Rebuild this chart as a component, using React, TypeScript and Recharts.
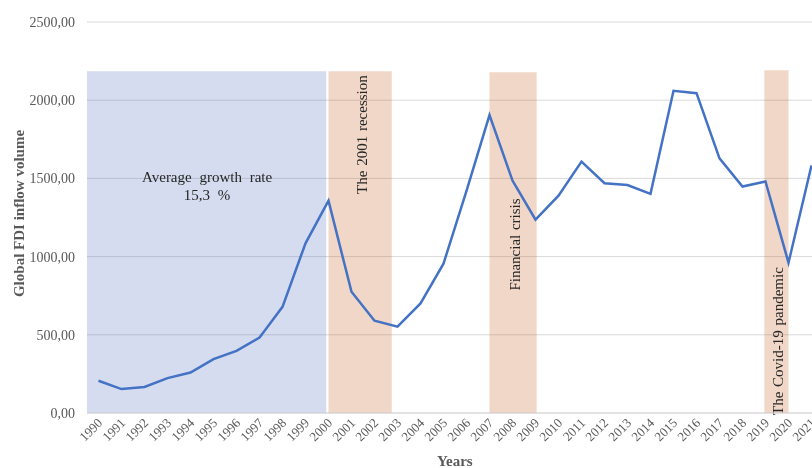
import React from "react";
import { LineChart, Line, XAxis, YAxis, CartesianGrid, ReferenceArea } from "recharts";

const years = [1990, 1991, 1992, 1993, 1994, 1995, 1996, 1997, 1998, 1999, 2000, 2001, 2002, 2003, 2004, 2005, 2006, 2007, 2008, 2009, 2010, 2011, 2012, 2013, 2014, 2015, 2016, 2017, 2018, 2019, 2020, 2021];
const fdiInflow = [206, 153, 166, 223, 259, 344, 397, 482, 679, 1085, 1357, 775, 590, 552, 701, 955, 1420, 1905, 1486, 1236, 1390, 1607, 1469, 1458, 1401, 2060, 2045, 1628, 1448, 1480, 961, 1583];
const yTicks = [0, 500, 1000, 1500, 2000, 2500];

// Shaded periods
const periodStarts = [1989.5, 2000, 2007, 2018.95];
const periodEnds = [1999.9, 2002.75, 2009.05, 2020.0];
const periodTops = [2185, 2185, 2178, 2192];
const periodLabels = ["Average growth rate|15,3 %", "The 2001 recession", "Financial crisis", "The Covid-19 pandemic"];

const data = years.map((year, i) => ({ year, fdi: fdiInflow[i] }));

const FONT = "'Liberation Serif', 'Times New Roman', Times, serif";
const periodFills = ["#5673BF", "#C75F1F", "#C75F1F", "#C75F1F"];
const labelOffsets = [0, 4, 126, 197]; // vertical text top offset from band top

const fmt = (v: number) => v.toFixed(2).replace(".", ",");

const XTick = (props: any) => {
  const { x, y, payload } = props;
  return (
    <text
      x={x + 4.7}
      y={y + 10.7}
      transform={`rotate(-45, ${x + 4.7}, ${y + 10.7})`}
      textAnchor="end"
      fontFamily={FONT}
      fontSize={13}
      fill="#595959"
    >
      {payload.value}
    </text>
  );
};

const makeLabel = (idx: number) => (props: any) => {
  const vb = props.viewBox || {};
  const { x, y, width } = vb;
  const text = periodLabels[idx];
  if (idx === 0) {
    const [l1, l2] = text.split("|");
    const cx = x + width / 2 + 0.5;
    return (
      <g>
        <text x={cx} y={173.5} textAnchor="middle" fontFamily={FONT} fontSize={15} fill="#262626" wordSpacing={4}>
          {l1}
        </text>
        <text x={cx} y={191.5} textAnchor="middle" fontFamily={FONT} fontSize={15} fill="#262626" wordSpacing={4}>
          {l2}
        </text>
      </g>
    );
  }
  const bx = x + width / 2 + 6.5;
  const by = y + labelOffsets[idx];
  return (
    <text
      x={bx}
      y={by}
      transform={`rotate(-90, ${bx}, ${by})`}
      textAnchor="end"
      fontFamily={FONT}
      fontSize={15}
      fill="#262626"
      wordSpacing={1}
    >
      {text}
    </text>
  );
};

export default function App() {
  return (
    <div style={{ position: "fixed", left: 8, top: 8, width: 804, height: 460, overflow: "hidden" }}>
      <LineChart width={820} height={460} data={data} margin={{ top: 14, right: 5, bottom: 10, left: 0 }}>
        <CartesianGrid vertical={false} stroke="#d9d9d9" strokeWidth={1} />
        <XAxis
          dataKey="year"
          type="number"
          domain={[1989.5, 2021.5]}
          ticks={years}
          interval={0}
          height={45}
          tickLine={false}
          tickSize={0}
          tickMargin={0}
          axisLine={{ stroke: "#d9d9d9" }}
          tick={<XTick />}
          label={{
            content: (p: any) => (
              <text x={446.8} y={458} textAnchor="middle" fontFamily={FONT} fontSize={15} fontWeight="bold" fill="#595959">
                Years
              </text>
            ),
          }}
        />
        <YAxis
          domain={[0, 2500]}
          ticks={yTicks}
          width={79}
          tickLine={false}
          axisLine={false}
          tickSize={0}
          tickMargin={12}
          tickFormatter={fmt}
          tick={{ fontFamily: FONT, fontSize: 14, fill: "#595959" }}
          label={{
            content: (p: any) => (
              <text
                x={16}
                y={205.5}
                transform="rotate(-90, 16, 205.5)"
                textAnchor="middle"
                fontFamily={FONT}
                fontSize={15}
                fontWeight="bold"
                fill="#595959"
              >
                Global FDI inflow volume
              </text>
            ),
          }}
        />
        <Line
          type="linear"
          dataKey="fdi"
          stroke="#4472C4"
          strokeWidth={2.5}
          dot={false}
          activeDot={false}
          isAnimationActive={false}
        />
        {periodStarts.map((s, i) => (
          <ReferenceArea
            key={i}
            x1={s}
            x2={periodEnds[i]}
            y1={0}
            y2={periodTops[i]}
            fill={periodFills[i]}
            fillOpacity={0.25}
            stroke="none"
            ifOverflow="visible"
            label={makeLabel(i)}
          />
        ))}
      </LineChart>
    </div>
  );
}
